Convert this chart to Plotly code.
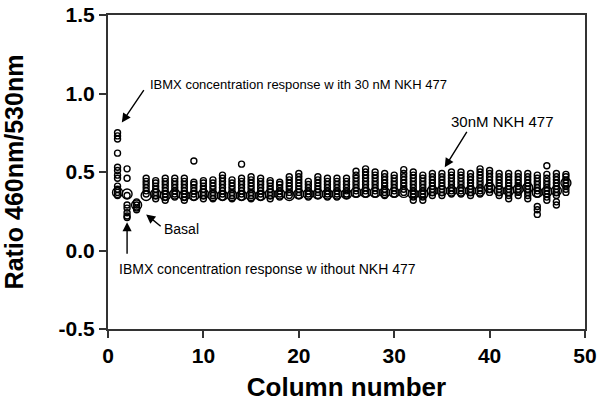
import plotly.graph_objects as go

columns = list(range(1, 49))

ratio_by_column = [
    [0.75, 0.73, 0.71, 0.62, 0.53, 0.51, 0.48, 0.46, 0.41, 0.39, 0.37, 0.35],
    [0.52, 0.46, 0.35, 0.29, 0.27, 0.24, 0.22, 0.21],
    [0.31, 0.29, 0.27, 0.26],
    [0.46, 0.44, 0.42, 0.40, 0.38, 0.36],
    [0.445, 0.43, 0.41, 0.39, 0.37, 0.35, 0.33],
    [0.46, 0.44, 0.42, 0.40, 0.38, 0.36, 0.34, 0.32],
    [0.46, 0.44, 0.42, 0.40, 0.38, 0.36, 0.34],
    [0.46, 0.44, 0.42, 0.40, 0.38, 0.36, 0.34, 0.32],
    [0.57, 0.435, 0.42, 0.40, 0.38, 0.36, 0.34],
    [0.445, 0.43, 0.41, 0.39, 0.37, 0.35, 0.33],
    [0.45, 0.43, 0.41, 0.39, 0.37, 0.35, 0.33],
    [0.48, 0.46, 0.44, 0.42, 0.40, 0.38, 0.36, 0.34],
    [0.45, 0.43, 0.41, 0.39, 0.37, 0.35, 0.33],
    [0.55, 0.46, 0.44, 0.42, 0.40, 0.38, 0.36, 0.34],
    [0.47, 0.45, 0.43, 0.41, 0.39, 0.37, 0.35, 0.33],
    [0.46, 0.44, 0.42, 0.40, 0.38, 0.36, 0.34],
    [0.445, 0.43, 0.41, 0.39, 0.37, 0.35, 0.33],
    [0.435, 0.42, 0.40, 0.38, 0.36, 0.34],
    [0.47, 0.45, 0.43, 0.41, 0.39, 0.37, 0.35],
    [0.49, 0.47, 0.45, 0.43, 0.41, 0.39, 0.37, 0.35],
    [0.44, 0.42, 0.40, 0.38, 0.36, 0.34],
    [0.47, 0.45, 0.43, 0.41, 0.39, 0.37, 0.35],
    [0.46, 0.44, 0.42, 0.40, 0.38, 0.36, 0.34],
    [0.46, 0.44, 0.42, 0.40, 0.38, 0.36, 0.34],
    [0.46, 0.44, 0.42, 0.40, 0.38, 0.36, 0.35],
    [0.505, 0.48, 0.46, 0.44, 0.42, 0.40, 0.38, 0.36],
    [0.52, 0.50, 0.48, 0.46, 0.44, 0.42, 0.40, 0.38, 0.36],
    [0.50, 0.48, 0.46, 0.44, 0.42, 0.40, 0.38, 0.36],
    [0.49, 0.47, 0.45, 0.43, 0.41, 0.39, 0.37, 0.35],
    [0.48, 0.46, 0.44, 0.42, 0.40, 0.38, 0.36],
    [0.515, 0.49, 0.47, 0.45, 0.43, 0.41, 0.39, 0.37],
    [0.50, 0.48, 0.46, 0.44, 0.42, 0.40, 0.38, 0.36, 0.34, 0.32],
    [0.48, 0.46, 0.44, 0.42, 0.40, 0.38, 0.36, 0.34, 0.32],
    [0.49, 0.47, 0.45, 0.43, 0.41, 0.39, 0.37, 0.35],
    [0.49, 0.47, 0.45, 0.43, 0.41, 0.39, 0.37, 0.35],
    [0.50, 0.48, 0.46, 0.44, 0.42, 0.40, 0.38, 0.36],
    [0.50, 0.48, 0.46, 0.44, 0.42, 0.40, 0.38, 0.36],
    [0.49, 0.47, 0.45, 0.43, 0.41, 0.39, 0.37, 0.35],
    [0.52, 0.50, 0.48, 0.46, 0.44, 0.42, 0.40, 0.38, 0.36],
    [0.51, 0.49, 0.47, 0.45, 0.43, 0.41, 0.39, 0.37],
    [0.49, 0.47, 0.45, 0.43, 0.41, 0.39, 0.37, 0.35],
    [0.49, 0.47, 0.45, 0.43, 0.41, 0.39, 0.37, 0.35, 0.33],
    [0.49, 0.47, 0.45, 0.43, 0.41, 0.39, 0.37, 0.35],
    [0.49, 0.47, 0.45, 0.43, 0.41, 0.39, 0.37, 0.35, 0.33],
    [0.48, 0.46, 0.44, 0.42, 0.40, 0.38, 0.36, 0.28, 0.26, 0.23],
    [0.54, 0.485, 0.46, 0.44, 0.42, 0.40, 0.38, 0.36, 0.34, 0.32],
    [0.49, 0.47, 0.45, 0.43, 0.41, 0.39, 0.37, 0.35, 0.31, 0.29],
    [0.485, 0.47, 0.45, 0.43, 0.41, 0.39, 0.37],
]

large_ratio = [
    0.37, 0.36, 0.29, 0.35, 0.36, 0.35, 0.36, 0.35, 0.35, 0.36,
    0.35, 0.35, 0.35, 0.35, 0.35, 0.35, 0.36, 0.36, 0.35, 0.36,
    0.36, 0.36, 0.36, 0.36, 0.36, 0.37, 0.37, 0.37, 0.37, 0.37,
    0.37, 0.36, 0.36, 0.38, 0.38, 0.38, 0.38, 0.38, 0.38, 0.40,
    0.38, 0.38, 0.39, 0.40, 0.37, 0.375, 0.38, 0.43,
]

x_tick_values = [0, 10, 20, 30, 40, 50]
y_tick_values = [-0.5, 0.0, 0.5, 1.0, 1.5]
y_tick_labels = ["-0.5", "0.0", "0.5", "1.0", "1.5"]

small_x, small_y = [], []
for c, vals in zip(columns, ratio_by_column):
    for v in vals:
        small_x.append(c)
        small_y.append(v)

FONT = "Liberation Sans, Arial, sans-serif"

fig = go.Figure()
fig.add_trace(go.Scatter(
    x=small_x, y=small_y, mode="markers",
    marker=dict(symbol="circle-open", size=6, color="black", line=dict(width=1.4)),
    showlegend=False, hoverinfo="x+y"))
fig.add_trace(go.Scatter(
    x=columns, y=large_ratio, mode="markers",
    marker=dict(symbol="circle-open", size=10, color="black", line=dict(width=1.4)),
    showlegend=False, hoverinfo="x+y"))

def ann_font(size):
    return dict(family=FONT, size=size, color="black")

arrow = dict(showarrow=True, arrowhead=2, arrowsize=1.3, arrowwidth=1.4, arrowcolor="black")

fig.add_annotation(x=1.45, y=0.815, ax=23, ay=-34, text="", **arrow)
fig.add_annotation(x=4.2, y=1.06, text="IBMX concentration response w ith 30 nM NKH 477",
                   showarrow=False, xanchor="left", yanchor="middle", font=ann_font(13))
fig.add_annotation(x=35.3, y=0.53, ax=23, ay=-37, text="", **arrow)
fig.add_annotation(x=41.3, y=0.82, text="30nM NKH 477",
                   showarrow=False, xanchor="center", yanchor="middle", font=ann_font(15))
fig.add_annotation(x=4.0, y=0.23, ax=16, ay=13, text="", **arrow)
fig.add_annotation(x=5.7, y=0.14, text="Basal",
                   showarrow=False, xanchor="left", yanchor="middle", font=ann_font(14))
fig.add_annotation(x=2.0, y=0.18, ax=0, ay=33, text="", **arrow)
fig.add_annotation(x=0.95, y=-0.115, text="IBMX concentration response w ithout NKH 477",
                   showarrow=False, xanchor="left", yanchor="middle", font=ann_font(14))

axis_common = dict(
    showline=True, linecolor="#333333", linewidth=2, mirror=True,
    ticks="outside", ticklen=7, tickwidth=2, tickcolor="#333333",
    showgrid=False, zeroline=False, automargin=False, ticklabeloverflow="allow",
    tickfont=dict(family=FONT, size=21, color="black", weight="bold"),
)

fig.update_xaxes(range=[0, 50], tickvals=x_tick_values,
                 title=dict(text="<b>Column number</b>", font=dict(family=FONT, size=26, color="black"), standoff=12),
                 **axis_common)
fig.update_yaxes(range=[-0.5, 1.5], tickvals=y_tick_values, ticktext=y_tick_labels,
                 title=dict(text="<b>Ratio 460nm/530nm</b>", font=dict(family=FONT, size=25, color="black"), standoff=36),
                 **axis_common)

fig.update_layout(
    width=601, height=404,
    margin=dict(l=108, r=16, t=15, b=75),
    plot_bgcolor="white", paper_bgcolor="white",
)

fig.write_html("out.html", config={"displayModeBar": False},
               post_script="document.body.style.margin='0';document.body.style.overflow='hidden';")
